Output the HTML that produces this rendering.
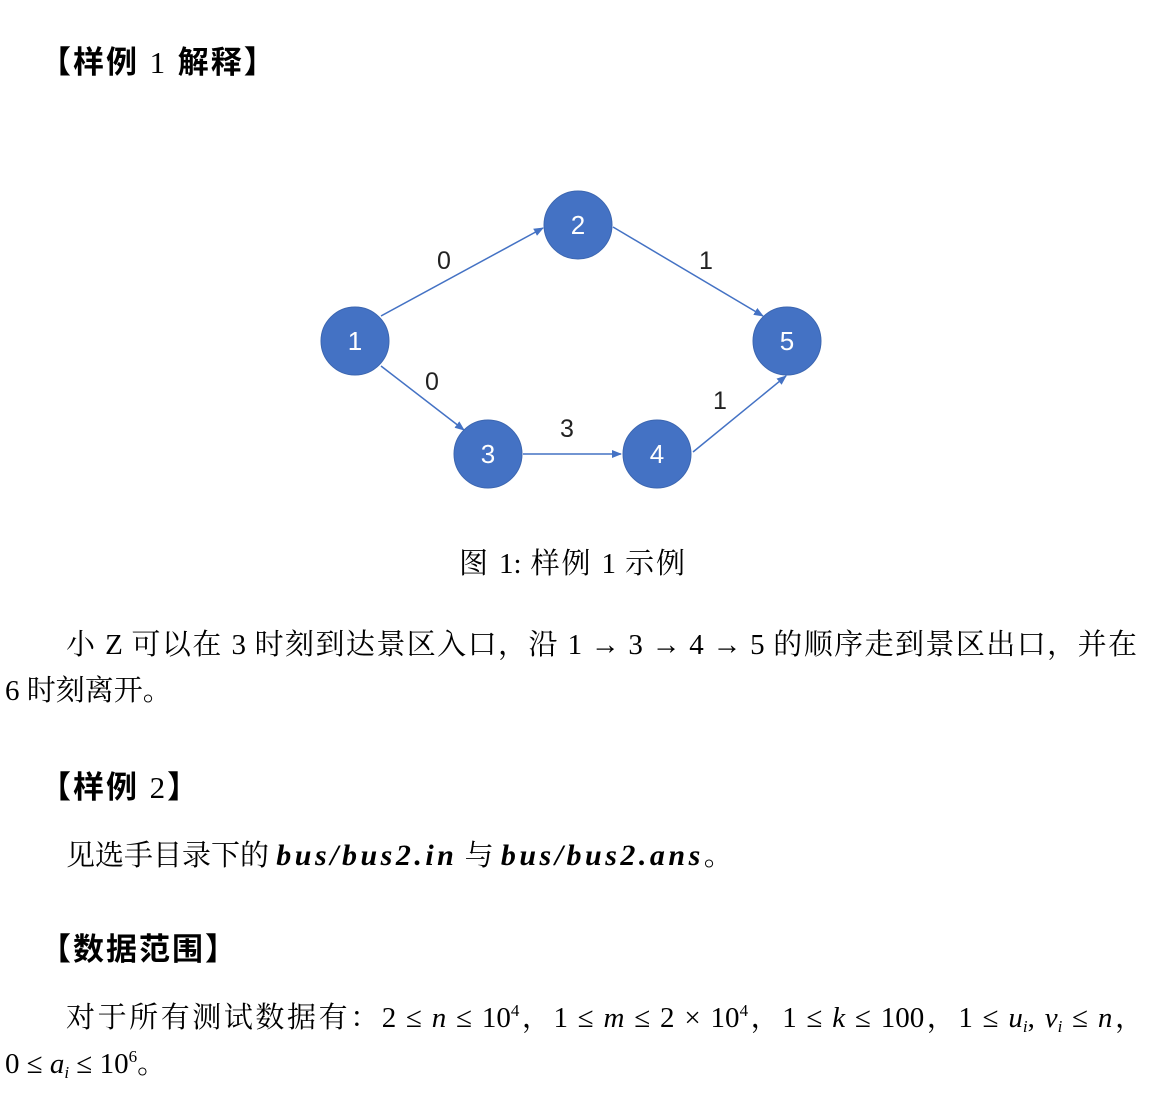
<!DOCTYPE html>
<html><head><meta charset="utf-8"><style>
body{margin:0;width:1165px;height:1093px;background:#fff;position:relative;overflow:hidden;font-family:"Liberation Serif","Noto Serif CJK SC",serif;color:#000}
.t{position:absolute;white-space:nowrap;font-size:29px;line-height:1}
.h{font-family:"Liberation Sans","Noto Sans CJK SC",sans-serif;font-weight:bold;font-size:31px;letter-spacing:2px}
.j{text-align:justify;text-align-last:justify;white-space:normal}
i{font-style:italic}
b i{font-weight:bold;letter-spacing:3.5px;font-size:30px}
sup{font-size:17px;vertical-align:11px;line-height:0}
sub{font-size:17px;vertical-align:-5px;line-height:0}
</style></head><body>
<div class="t h" style="left:40px;top:47px">【样例 <span style="font-family:'Liberation Serif';font-weight:normal">1</span> 解释】</div>
<svg style="position:absolute;left:0;top:0" width="1165" height="560">
<defs><marker id="a" markerWidth="10" markerHeight="8" refX="9" refY="4" orient="auto" markerUnits="userSpaceOnUse"><path d="M0,0L10,4L0,8z" fill="#4472C4"/></marker></defs>
<g stroke="#4472C4" stroke-width="1.5" marker-end="url(#a)">
<line x1="381" y1="316" x2="543" y2="228"/>
<line x1="613" y1="227" x2="763" y2="316"/>
<line x1="381" y1="366" x2="464" y2="430"/>
<line x1="523" y1="454" x2="621" y2="454"/>
<line x1="693" y1="452" x2="786" y2="376"/>
</g>
<g fill="#4472C4" stroke="#3c66b0" stroke-width="1">
<circle cx="355" cy="341" r="34"/><circle cx="578" cy="225" r="34"/><circle cx="488" cy="454" r="34"/><circle cx="657" cy="454" r="34"/><circle cx="787" cy="341" r="34"/>
</g>
<g fill="#fff" font-family="Liberation Sans,sans-serif" font-size="26" text-anchor="middle">
<text x="355" y="350">1</text><text x="578" y="234">2</text><text x="488" y="463">3</text><text x="657" y="463">4</text><text x="787" y="350">5</text>
</g>
<g fill="#222" font-family="Liberation Sans,sans-serif" font-size="25" text-anchor="middle">
<text x="444" y="269">0</text><text x="706" y="269">1</text><text x="432" y="390">0</text><text x="567" y="437">3</text><text x="720" y="409">1</text>
</g>
</svg>
<div class="t j" style="left:459px;top:550px;width:226px">图 1: 样例 1 示例</div>
<div class="t j" style="left:66px;top:631px;width:1071px">小 Z 可以在 3 时刻到达景区入口，沿 1 → 3 → 4 → 5 的顺序走到景区出口，并在</div>
<div class="t" style="left:5px;top:677px">6 时刻离开。</div>
<div class="t h" style="left:40px;top:772px">【样例 <span style="font-family:'Liberation Serif';font-weight:normal">2</span>】</div>
<div class="t" style="left:66px;top:841px">见选手目录下的 <b><i>bus/bus2.in</i></b> 与 <b><i>bus/bus2.ans</i></b>。</div>
<div class="t h" style="left:40px;top:934px">【数据范围】</div>
<div class="t j" style="left:66px;top:1004px;width:1078px">对于所有测试数据有：2 ≤ <i>n</i> ≤ 10<sup>4</sup>，1 ≤ <i>m</i> ≤ 2 × 10<sup>4</sup>，1 ≤ <i>k</i> ≤ 100，1 ≤ <i>u<sub>i</sub></i>, <i>v<sub>i</sub></i> ≤ <i>n</i>，</div>
<div class="t" style="left:5px;top:1050px">0 ≤ <i>a<sub>i</sub></i> ≤ 10<sup>6</sup>。</div>
</body></html>
